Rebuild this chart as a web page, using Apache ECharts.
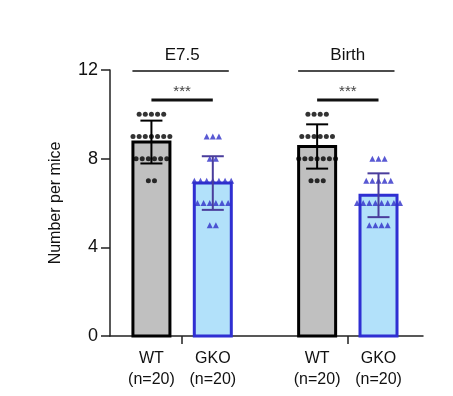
<!DOCTYPE html>
<html>
<head>
<meta charset="utf-8">
<script src="https://cdn.jsdelivr.net/npm/echarts@6/dist/echarts.min.js"></script>
<style>
  html, body { margin: 0; padding: 0; background: #fff; }
  #chart { width: 453px; height: 396px; }
</style>
</head>
<body>
<div id="chart"></div>
<script>
// 数据
var groupNames = ['E7.5', 'Birth'];
var sampleLabels = ['WT\n(n=20)', 'GKO\n(n=20)', 'WT\n(n=20)', 'GKO\n(n=20)'];
var sigLabels = ['***', '***'];
var wtE75 = [10,10,10,10,10, 9,9,9,9,9,9,9, 8,8,8,8,8,8, 7,7];
var gkoE75 = [9,9,9, 8,8, 7,7,7,7,7,7,7, 6,6,6,6,6,6, 5,5];
var wtBirth = [10,10,10,10, 9,9,9,9,9,9, 8,8,8,8,8,8,8, 7,7,7];
var gkoBirth = [8,8,8, 7,7,7,7,7, 6,6,6,6,6,6,6,6, 5,5,5,5];

var samples = [wtE75, gkoE75, wtBirth, gkoBirth];
var isKO = [false, true, false, true];

// 布局
var barPos = [0.675, 1.675, 3.375, 4.375];
var tickPos = [1.175, 3.875];
var dotStep = 0.1;
var font = 'Liberation Sans, Arial, sans-serif';

var colors = {
    wtFill: '#c0c0c0', wtLine: '#000000', wtDot: '#000000',
    koFill: '#b2e1fa', koLine: '#2f2fd2', koDot: '#3030c8', koErr: '#4a3d9c'
};

function mean(a) {
    var s = 0;
    a.forEach(function (v) { s += v; });
    return s / a.length;
}
function sd(a) {
    var m = mean(a), s = 0;
    a.forEach(function (v) { s += (v - m) * (v - m); });
    return Math.sqrt(s / (a.length - 1));
}

// 柱子 / 误差线 数据
var barData = [], errData = [];
samples.forEach(function (a, i) {
    barData.push([barPos[i], mean(a), i]);
    errData.push([barPos[i], mean(a), sd(a), i]);
});

// 散点：同值排成一行
function rowPoints(a, x) {
    var rows = {}, pts = [];
    a.forEach(function (v) { rows[v] = (rows[v] || 0) + 1; });
    Object.keys(rows).forEach(function (k) {
        var n = rows[k];
        for (var j = 0; j < n; j++) {
            pts.push([x + (j - (n - 1) / 2) * dotStep, Number(k)]);
        }
    });
    return pts;
}

var dotSeries = samples.map(function (a, i) {
    return {
        type: 'scatter',
        data: rowPoints(a, barPos[i]),
        symbol: isKO[i] ? 'triangle' : 'circle',
        symbolSize: isKO[i] ? 6 : 5,
        itemStyle: { color: isKO[i] ? colors.koDot : colors.wtDot },
        z: 4,
        silent: true
    };
});

// 分组标注
var annoData = groupNames.map(function (g, i) {
    return [barPos[i * 2], barPos[i * 2 + 1], i];
});

var myChart = echarts.init(document.getElementById('chart'));

var option = {
    animation: false,
    backgroundColor: '#fff',
    grid: { left: 110, right: 30, top: 70, bottom: 60 },
    xAxis: {
        type: 'value',
        min: 0,
        max: 5.1,
        splitLine: { show: false },
        axisLine: { lineStyle: { color: '#222', width: 1.5 } },
        axisTick: { show: true, customValues: tickPos, length: 8, lineStyle: { color: '#222', width: 1.5 } },
        axisLabel: {
            customValues: barPos,
            color: '#111',
            fontSize: 16,
            fontFamily: font,
            lineHeight: 21,
            margin: 12,
            formatter: function (v) {
                for (var i = 0; i < barPos.length; i++) {
                    if (Math.abs(barPos[i] - v) < 1e-6) return sampleLabels[i];
                }
                return '';
            }
        }
    },
    yAxis: {
        type: 'value',
        min: 0,
        max: 12,
        interval: 4,
        name: 'Number per mice',
        nameLocation: 'middle',
        nameGap: 46,
        nameTextStyle: { fontSize: 16, color: '#111', fontFamily: font },
        splitLine: { show: false },
        axisLine: { show: true, lineStyle: { color: '#222', width: 1.5 } },
        axisTick: { show: true, length: 9, lineStyle: { color: '#222', width: 1.5 } },
        axisLabel: { fontSize: 18, color: '#111', fontFamily: font, margin: 12 }
    },
    series: [
        {
            type: 'custom',
            data: barData,
            z: 2,
            silent: true,
            renderItem: function (params, api) {
                var i = api.value(2);
                var top = api.coord([api.value(0), api.value(1)]);
                var base = api.coord([api.value(0), 0]);
                var w = 37;
                return {
                    type: 'rect',
                    shape: { x: top[0] - w / 2, y: top[1], width: w, height: base[1] - top[1] },
                    style: {
                        fill: isKO[i] ? colors.koFill : colors.wtFill,
                        stroke: isKO[i] ? colors.koLine : colors.wtLine,
                        lineWidth: 3
                    }
                };
            }
        },
        {
            type: 'custom',
            data: errData,
            z: 5,
            silent: true,
            renderItem: function (params, api) {
                var x = api.value(0), m = api.value(1), s = api.value(2), i = api.value(3);
                var hi = api.coord([x, m + s]);
                var lo = api.coord([x, m - s]);
                var c = isKO[i] ? colors.koErr : colors.wtLine;
                var cw = 11;
                var st = { stroke: c, lineWidth: 2 };
                return {
                    type: 'group',
                    children: [
                        { type: 'line', shape: { x1: hi[0], y1: hi[1], x2: lo[0], y2: lo[1] }, style: st },
                        { type: 'line', shape: { x1: hi[0] - cw, y1: hi[1], x2: hi[0] + cw, y2: hi[1] }, style: st },
                        { type: 'line', shape: { x1: lo[0] - cw, y1: lo[1], x2: lo[0] + cw, y2: lo[1] }, style: st }
                    ]
                };
            }
        },
        {
            type: 'custom',
            data: annoData,
            z: 6,
            silent: true,
            renderItem: function (params, api) {
                var g = api.value(2);
                var a = api.coord([api.value(0), 12]);
                var b = api.coord([api.value(1), 12]);
                var s = api.coord([api.value(0), 10.65]);
                var e = api.coord([api.value(1), 10.65]);
                var cx = (a[0] + b[0]) / 2;
                return {
                    type: 'group',
                    children: [
                        { type: 'line', shape: { x1: a[0] - 19, y1: a[1] + 1, x2: b[0] + 16, y2: b[1] + 1 }, style: { stroke: '#111', lineWidth: 1.5 } },
                        { type: 'text', style: { text: groupNames[g], x: cx, y: a[1] - 15, align: 'center', verticalAlign: 'middle', fontSize: 17, fontFamily: font, fill: '#111' } },
                        { type: 'line', shape: { x1: s[0], y1: s[1], x2: e[0], y2: e[1] }, style: { stroke: '#111', lineWidth: 3 } },
                        { type: 'text', style: { text: sigLabels[g], x: cx, y: s[1] - 8, align: 'center', verticalAlign: 'middle', fontSize: 15, fontFamily: font, fill: '#444' } }
                    ]
                };
            }
        }
    ].concat(dotSeries)
};

myChart.setOption(option);
</script>
</body>
</html>
